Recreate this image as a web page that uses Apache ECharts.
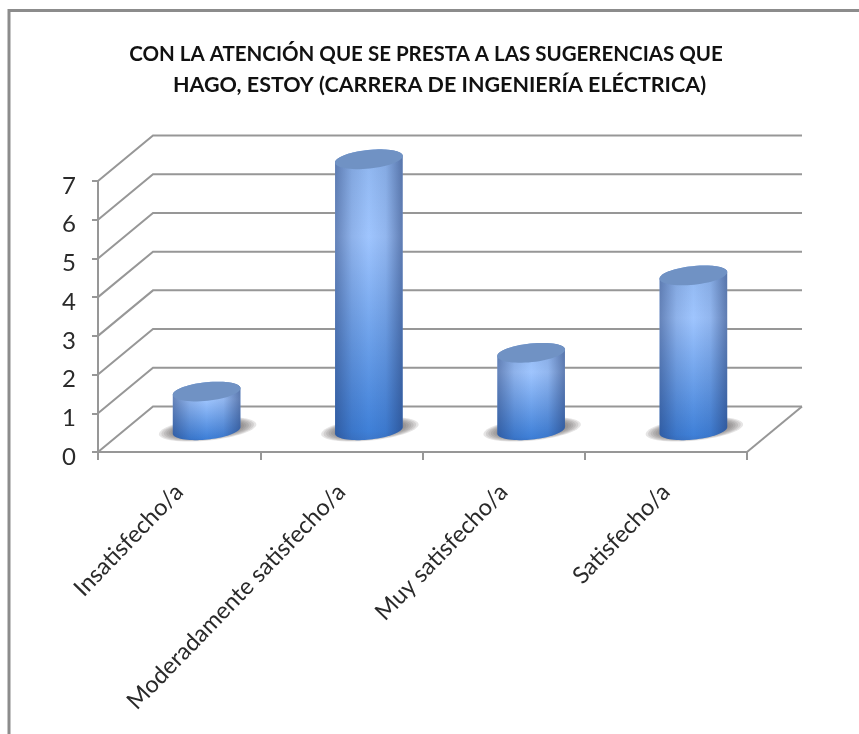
<!DOCTYPE html>
<html><head><meta charset="utf-8">
<style>html,body{margin:0;padding:0;background:#fff}#c{width:859px;height:734px}</style>
<script src="https://cdn.jsdelivr.net/npm/echarts@6/dist/echarts.min.js"></script>
</head><body><div id="c"></div>
<script>
const categories = ['Insatisfecho/a','Moderadamente satisfecho/a','Muy satisfecho/a','Satisfecho/a'];
const values = [1,7,2,4];
const yTicks = [0,1,2,3,4,5,6,7];
const titleLines = ['CON LA ATENCIÓN QUE SE PRESTA A LAS SUGERENCIAS QUE','HAGO, ESTOY (CARRERA DE INGENIERÍA ELÉCTRICA)'];

const DX = 55, DY = 45.5, RX = 34, RY = 9.3, TILT = -6 * Math.PI / 180;
const LINE = '#979797';

function ell(cx, cy, a, b, from, to, n) {
  const pts = [];
  for (let i = 0; i <= n; i++) {
    const t = from + (to - from) * i / n;
    pts.push([
      cx + a * Math.cos(t) * Math.cos(TILT) - b * Math.sin(t) * Math.sin(TILT),
      cy + a * Math.cos(t) * Math.sin(TILT) + b * Math.sin(t) * Math.cos(TILT)
    ]);
  }
  return pts;
}
function wall(params, api) {
  const c = params.coordSys, y = api.coord([0, api.value(1)])[1], v = api.value(1);
  const style = {stroke: LINE, fill: null, lineWidth: 2};
  const kids = [{type:'polyline', shape:{points: [[c.x, y], [c.x + DX, y - DY], [c.x + c.width + DX, y - DY]]}, style}];
  if (v === 0) kids.push({type:'line', shape:{x1:c.x + c.width, y1:y, x2:c.x + c.width + DX, y2:y - DY}, style});
  return {type:'group', children:kids};
}
function cylinder(params, api) {
  const i = api.value(0), p0 = api.coord([i, 0]), p1 = api.coord([i, api.value(1)]);
  const cx = p0[0] + DX / 2, by = p0[1] - DY / 2 + 1, ty = p1[1] - DY / 2 + 1;
  const front = ell(cx, by, RX, RY, 0, Math.PI, 40);
  const back = ell(cx, ty, RX, RY, Math.PI, 2 * Math.PI, 40);
  const body = front.concat(back);
  const top = ell(cx, ty, RX, RY, 0, 2 * Math.PI, 60);
  const grad = (type, stops) => Object.assign(
    type === 'h' ? {type:'linear', x:0, y:0, x2:1, y2:0} : {type:'linear', x:0, y:0, x2:0, y2:1},
    {colorStops: stops.map(s => ({offset:s[0], color:s[1]}))});
  const kids = [];
  for (let k = 0; k < 8; k++) {
    kids.push({type:'polygon', shape:{points: ell(cx + 1, by - 1, RX + 15 - k * 2.5, RY + 2 - k * 0.6, 0, 2 * Math.PI, 60)},
      style:{fill:'rgba(105,100,100,.17)'}});
  }
  kids.push(
    {type:'polygon', shape:{points:body}, style:{fill:grad('v', [[0,'#8eb5ee'],[.3,'#9fc5fe'],[.97,'#3f80d8'],[1,'#3c78cc']])}},
    {type:'polygon', shape:{points:body}, style:{fill:grad('h', [[0,'rgba(30,50,100,.45)'],[.25,'rgba(30,50,100,.13)'],[.5,'rgba(30,50,100,0)'],[.75,'rgba(30,50,100,.1)'],[1,'rgba(30,50,100,.5)']])}},
    {type:'polygon', shape:{points:top}, style:{fill:'#7092c4'}}
  );
  return {type:'group', children:kids};
}

const chart = echarts.init(document.getElementById('c'), null, {renderer:'canvas'});
chart.setOption({
  animation:false,
  backgroundColor:'#fff',
  title:[
    {text:titleLines[0], left:421, top:38.5, textAlign:'center',
      textStyle:{fontFamily:'Lato', fontWeight:'bold', fontSize:20.5, color:'#111'}},
    {text:titleLines[1], left:434.5, top:69, textAlign:'center',
      textStyle:{fontFamily:'Lato', fontWeight:'bold', fontSize:21.5, color:'#111'}}
  ],
  graphic:[{type:'polyline', z:-1, shape:{points:[[9,734],[9,10.5],[859,10.5]]}, style:{fill:null, stroke:'#8c8c8c', lineWidth:3}}],
  grid:{left:98, right:112, top:181, bottom:282},
  xAxis:{type:'category', data:categories,
    axisLine:{lineStyle:{color:LINE, width:2}}, axisTick:{show:true, length:8, lineStyle:{color:LINE, width:2}},
    axisLabel:{rotate:46, interval:0, margin:36, fontFamily:'Lato', fontSize:23.5, color:'#2a2a2a'}},
  yAxis:{type:'value', min:0, max:7, interval:1,
    axisLine:{show:true, lineStyle:{color:LINE, width:2}}, axisTick:{show:true, length:6, lineStyle:{color:LINE, width:2}},
    splitLine:{show:false},
    axisLabel:{margin:22, verticalAlign:'top', lineHeight:10, fontFamily:'Lato', fontSize:24, color:'#2a2a2a', formatter:v => String(yTicks[v])}},
  series:[
    {type:'custom', name:'walls', silent:true, z:1, renderItem:wall, data:yTicks.map(t => [0, t]), encode:{x:0, y:1}, clip:false},
    {type:'custom', name:'values', silent:true, z:2, renderItem:cylinder, data:values.map((v, i) => [i, v]), encode:{x:0, y:1}, clip:false}
  ]
});
</script></body></html>
